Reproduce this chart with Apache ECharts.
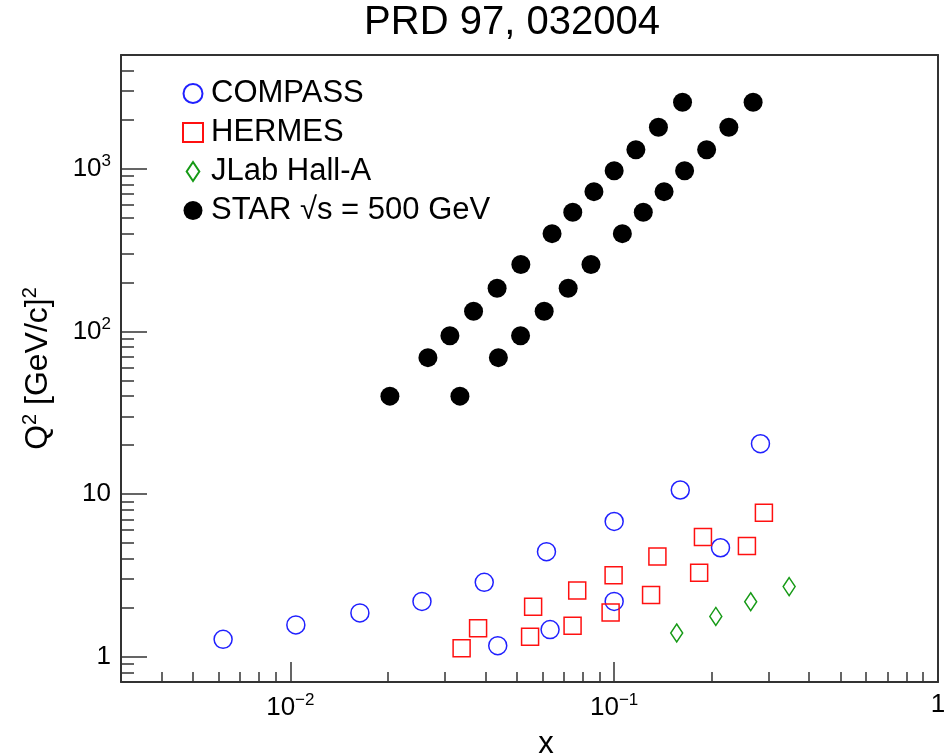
<!DOCTYPE html>
<html>
<head>
<meta charset="utf-8">
<script src="https://cdn.jsdelivr.net/npm/echarts@6/dist/echarts.min.js"></script>
<style>
html, body { margin: 0; padding: 0; background: #fff; }
#chart { width: 950px; height: 755px; }
</style>
</head>
<body>
<div id="chart"></div>
<script>
// data
var compassX = [0.0062, 0.0104, 0.0164, 0.0255, 0.0397, 0.0437, 0.0618, 0.0634, 0.100, 0.100, 0.160, 0.213, 0.283];
var compassQ2 = [1.28, 1.57, 1.86, 2.19, 2.87, 1.17, 4.43, 1.47, 6.79, 2.19, 10.6, 4.68, 20.4];

var hermesX = [0.0338, 0.0380, 0.0550, 0.0562, 0.0744, 0.0769, 0.0975, 0.0996, 0.130, 0.136, 0.183, 0.188, 0.257, 0.290];
var hermesQ2 = [1.13, 1.50, 1.33, 2.03, 1.55, 2.56, 1.87, 3.17, 2.40, 4.14, 3.29, 5.45, 4.80, 7.68];

var jlabX = [0.156, 0.206, 0.264, 0.347];
var jlabQ2 = [1.40, 1.77, 2.18, 2.70];

var starQ2 = [40, 69, 94, 133, 184, 258, 399, 540, 723, 972, 1308, 1800, 2563];
var starXLow = [0.0203, 0.0266, 0.0311, 0.0368, 0.0435, 0.0515, 0.0643, 0.0745, 0.0866, 0.100, 0.1167, 0.137, 0.1626];
var starXHigh = [0.0334, 0.0439, 0.0514, 0.0608, 0.0721, 0.0848, 0.106, 0.123, 0.1426, 0.165, 0.193, 0.226, 0.2686];

// axis ticks
var xMajor = [0.01, 0.1, 1];
var xMinor = [0.004, 0.005, 0.006, 0.007, 0.008, 0.009,
              0.02, 0.03, 0.04, 0.05, 0.06, 0.07, 0.08, 0.09,
              0.2, 0.3, 0.4, 0.5, 0.6, 0.7, 0.8, 0.9];
var yMajor = [1, 10, 100, 1000];
var yMinor = [0.8, 0.9, 2, 3, 4, 5, 6, 7, 8, 9,
              20, 30, 40, 50, 60, 70, 80, 90,
              200, 300, 400, 500, 600, 700, 800, 900,
              2000, 3000, 4000];

var FONT = 'Liberation Sans, Arial, Helvetica, sans-serif';
var AXIS = '#333';
var BLUE = '#2020ff';
var RED = '#ff1010';
var GREEN = '#169a16';

function pairs(xs, ys) {
  return xs.map(function (x, i) { return [x, ys[i]]; });
}

function powLabel(v) {
  var e = Math.round(Math.log10(v));
  if (e === 0) return '1';
  if (e === 1) return '10';
  return '10{s|' + String(e).replace('-', '\u2212') + '}';
}

var supStyle = { fontSize: 17, fontFamily: FONT, color: '#000', padding: [0, 0, 14, 0] };

function xAx(extra) {
  var base = {
    type: 'log', logBase: 10, min: 0.003, max: 1, position: 'bottom',
    axisLine: { show: false, onZero: false, lineStyle: { color: AXIS, width: 2 } },
    axisTick: { show: false },
    axisLabel: { show: false },
    splitLine: { show: false }
  };
  return Object.assign(base, extra);
}
function yAx(extra) {
  var base = {
    type: 'log', logBase: 10, min: 0.7, max: 5000, position: 'left',
    axisLine: { show: false, onZero: false, lineStyle: { color: AXIS, width: 2 } },
    axisTick: { show: false },
    axisLabel: { show: false },
    splitLine: { show: false }
  };
  return Object.assign(base, extra);
}

var chart = echarts.init(document.getElementById('chart'), null, { renderer: 'canvas' });

var option = {
  animation: false,
  backgroundColor: '#fff',
  grid: { left: 121, right: 12, top: 55, bottom: 73, containLabel: false },
  xAxis: [
    xAx({
      axisLine: { show: true, onZero: false, lineStyle: { color: AXIS, width: 2 } },
      axisTick: { show: true, inside: true, length: 20, customValues: xMajor, lineStyle: { color: AXIS, width: 1.5 } },
      axisLabel: {
        show: true, customValues: xMajor, formatter: powLabel, margin: 10,
        color: '#000', fontFamily: FONT, fontSize: 26, rich: { s: supStyle }
      }
    }),
    xAx({
      axisTick: { show: true, inside: true, length: 10, customValues: xMinor, lineStyle: { color: AXIS, width: 1.5 } }
    }),
    xAx({
      position: 'top',
      axisLine: { show: true, onZero: false, lineStyle: { color: AXIS, width: 2 } }
    })
  ],
  yAxis: [
    yAx({
      axisLine: { show: true, onZero: false, lineStyle: { color: AXIS, width: 2 } },
      axisTick: { show: true, inside: true, length: 26, customValues: yMajor, lineStyle: { color: AXIS, width: 1.5 } },
      axisLabel: {
        show: true, customValues: yMajor, formatter: powLabel, margin: 10,
        color: '#000', fontFamily: FONT, fontSize: 26, rich: { s: supStyle }
      },
      name: 'Q{s|2} [GeV/c]{s|2}',
      nameLocation: 'middle', nameGap: 64, nameRotate: 90,
      nameTextStyle: {
        color: '#000', fontFamily: FONT, fontSize: 32,
        rich: { s: { fontSize: 20, fontFamily: FONT, color: '#000', padding: [0, 0, 17, 0] } }
      }
    }),
    yAx({
      axisTick: { show: true, inside: true, length: 13, customValues: yMinor, lineStyle: { color: AXIS, width: 1.5 } }
    }),
    yAx({
      position: 'right',
      axisLine: { show: true, onZero: false, lineStyle: { color: AXIS, width: 2 } }
    })
  ],
  legend: {
    orient: 'vertical', left: 182, top: 78, padding: 0, itemGap: 8,
    itemWidth: 20, itemHeight: 19,
    textStyle: { fontFamily: FONT, fontSize: 31, color: '#000', padding: [0, 0, 0, 3] },
    data: [
      { name: 'COMPASS' },
      { name: 'HERMES' },
      { name: 'JLab Hall-A', icon: 'path://M6,0L12,9L6,18L0,9Z' },
      { name: 'STAR \u221As = 500 GeV' }
    ]
  },
  graphic: [
    {
      type: 'text', x: 512, y: 23,
      style: {
        text: 'PRD 97, 032004', font: '40px ' + FONT, fill: '#000',
        align: 'center', verticalAlign: 'middle', textAlign: 'center', textVerticalAlign: 'middle'
      }
    },
    {
      type: 'text', x: 546, y: 744,
      style: {
        text: 'x', font: '31px ' + FONT, fill: '#000',
        align: 'center', verticalAlign: 'middle', textAlign: 'center', textVerticalAlign: 'middle'
      }
    }
  ],
  series: [
    {
      name: 'COMPASS', type: 'scatter', data: pairs(compassX, compassQ2),
      symbol: 'circle', symbolSize: 18,
      itemStyle: { color: 'rgba(0,0,0,0)', borderColor: BLUE, borderWidth: 1.5, opacity: 1 }
    },
    {
      name: 'HERMES', type: 'scatter', data: pairs(hermesX, hermesQ2),
      symbol: 'rect', symbolSize: 17,
      itemStyle: { color: 'rgba(0,0,0,0)', borderColor: RED, borderWidth: 1.5, opacity: 1 }
    },
    {
      name: 'JLab Hall-A', type: 'scatter', data: pairs(jlabX, jlabQ2),
      symbol: 'diamond', symbolSize: [12, 18],
      itemStyle: { color: 'rgba(0,0,0,0)', borderColor: GREEN, borderWidth: 1.5, opacity: 1 }
    },
    {
      name: 'STAR \u221As = 500 GeV', type: 'scatter',
      data: pairs(starXLow, starQ2).concat(pairs(starXHigh, starQ2)),
      symbol: 'circle', symbolSize: 19,
      itemStyle: { color: '#000', opacity: 1 }
    }
  ]
};

chart.setOption(option);
</script>
</body>
</html>
